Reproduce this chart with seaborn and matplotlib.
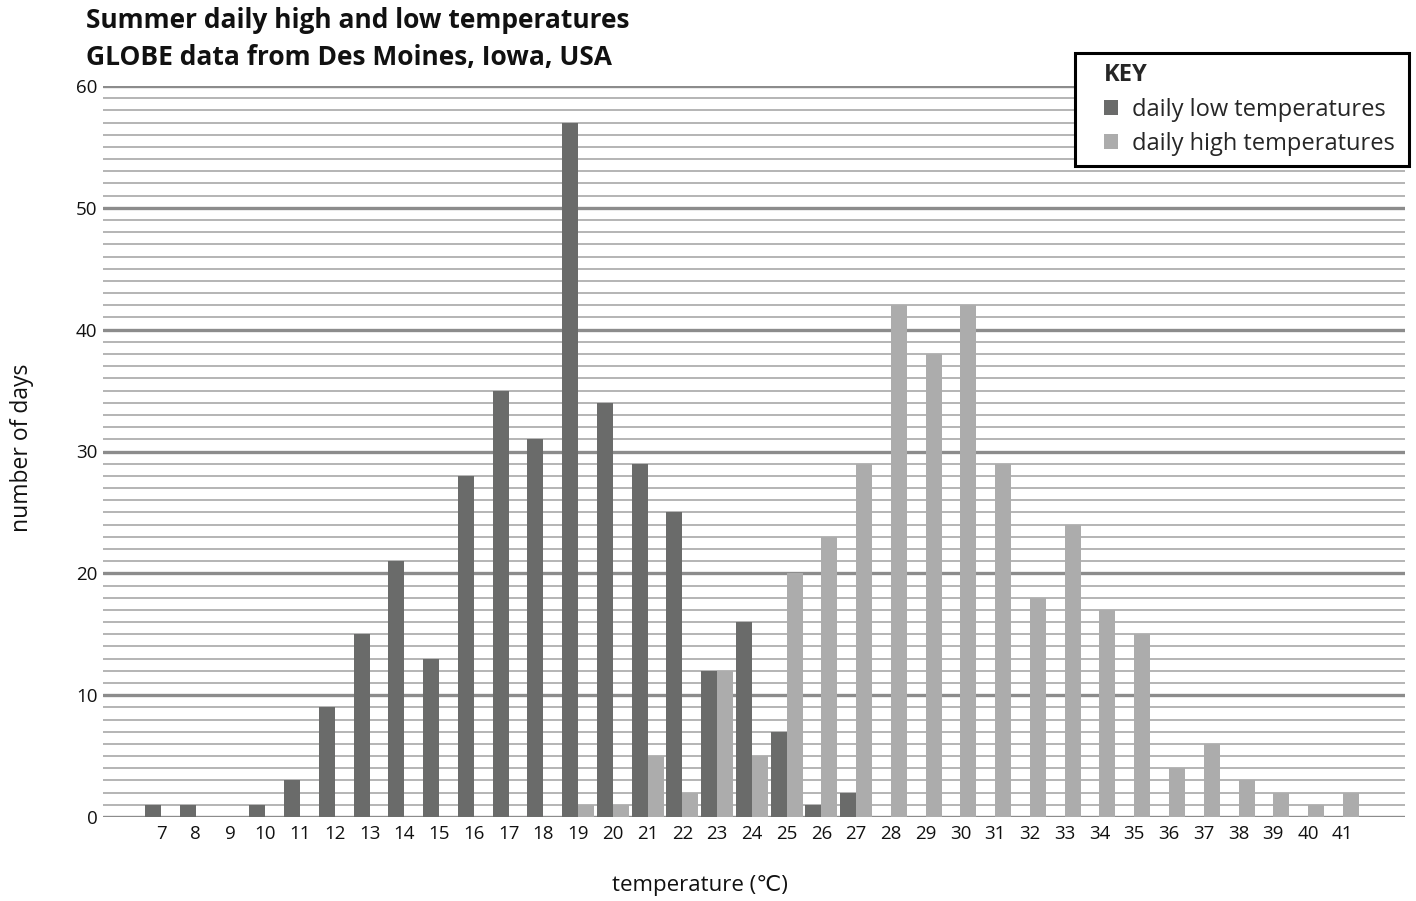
"""Summer daily high/low temperature histogram, GLOBE data from Des Moines."""
import numpy as np
import pandas as pd
import matplotlib
matplotlib.use("Agg")
import matplotlib.pyplot as plt
import matplotlib.patches as mpatches
import seaborn as sns
from matplotlib.ticker import MultipleLocator

temps = list(range(7, 42))
low_days = [1, 1, 0, 1, 3, 9, 15, 21, 13, 28, 35, 31, 57, 34, 29, 25, 12, 16, 7, 1, 2,
            0, 0, 0, 0, 0, 0, 0, 0, 0, 0, 0, 0, 0, 0]
high_days = [0, 0, 0, 0, 0, 0, 0, 0, 0, 0, 0, 0, 1, 1, 5, 2, 12, 5, 20, 23, 29,
             42, 38, 42, 29, 18, 24, 17, 15, 4, 6, 3, 2, 1, 2]
series_names = ["daily low temperatures", "daily high temperatures"]
series_colors = ["#6a6b6a", "#acacac"]

df = pd.DataFrame({
    "temp": [str(t) for t in temps] * 2,
    "days": low_days + high_days,
    "series": [series_names[0]] * len(temps) + [series_names[1]] * len(temps),
})

sns.set_theme(style="white")
plt.rcParams["font.family"] = ["Open Sans", "DejaVu Sans"]

fig = plt.figure(figsize=(14.16, 9.01), dpi=100)
ax = fig.add_axes([103 / 1416, 1 - 817 / 901, (1405 - 103) / 1416, (817 - 86) / 901])

sns.barplot(data=df, x="temp", y="days", hue="series", order=[str(t) for t in temps],
            hue_order=series_names, palette=series_colors, width=0.92, dodge=True,
            saturation=1, linewidth=0, ax=ax, legend=True, zorder=3)

ax.set_ylim(0, 60)
ax.set_xlim(-1.67, len(temps) + 0.79)
ax.yaxis.set_major_locator(MultipleLocator(10))
ax.yaxis.set_minor_locator(MultipleLocator(1))
ax.grid(False)
for v in range(0, 61):
    if v % 10 == 0:
        ax.axhline(v, color="#8c8c8c", lw=2.4, zorder=1)
    else:
        ax.axhline(v, color="#b4b4b4", lw=1.4, zorder=1)
for s in ax.spines.values():
    s.set_visible(False)
ax.tick_params(axis="both", which="both", length=0, labelsize=13.5, colors="#111111")
ax.tick_params(axis="y", pad=4)
ax.tick_params(axis="x", pad=6)
ax.set_xlabel("")
ax.set_ylabel("")

fig.text(22 / 1416, 1 - 448 / 901, "number of days", rotation=90, ha="center", va="center",
         fontsize=16.5, color="#111111")
fig.text(700 / 1416, 1 - 885 / 901, "temperature (℃)", ha="center", va="center",
         fontsize=16, color="#111111")
fig.text(86 / 1416, 1 - 21 / 901, "Summer daily high and low temperatures", ha="left",
         va="center", fontsize=19, fontweight="bold", color="#111111")
fig.text(86 / 1416, 1 - 57 / 901, "GLOBE data from Des Moines, Iowa, USA", ha="left",
         va="center", fontsize=19, fontweight="bold", color="#111111")

# key box drawn separately so the padding matches the original
key_box = mpatches.Rectangle((1075 / 1416, 1 - 166 / 901), 334 / 1416, 113 / 901,
                             transform=fig.transFigure, facecolor="white",
                             edgecolor="black", linewidth=2.2, zorder=4)
fig.patches.append(key_box)

handles, labels = ax.get_legend_handles_labels()
ax.get_legend().remove()
leg = fig.legend(handles, labels, title="KEY", loc="upper left",
                 bbox_to_anchor=(1104 / 1416, 1 - 63 / 901),
                 fontsize=17, title_fontproperties={"weight": "bold", "size": 17},
                 alignment="left", frameon=False, handlelength=0.6,
                 handleheight=0.6, handletextpad=0.6, labelspacing=0.45, borderpad=0,
                 borderaxespad=0)
leg.set_zorder(5)

fig.savefig("out.png", dpi=100)
